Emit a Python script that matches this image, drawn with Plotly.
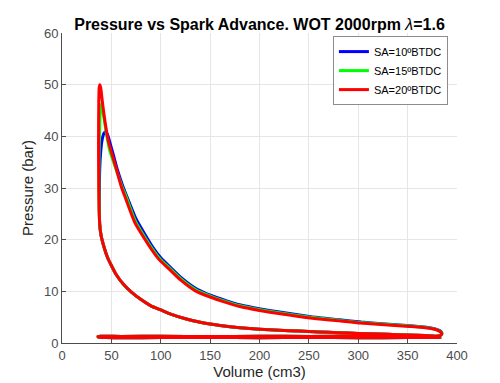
import plotly.graph_objects as go

# Shared compression stroke (BDC -> near TDC)
V_comp = [384, 375, 360, 340, 320, 300, 280, 260, 240, 220, 200, 180, 160, 140, 125,
          110, 100, 90, 80, 70, 62, 55, 50, 46, 43, 40.5, 39, 38.2]
P_comp = [1.2, 1.35, 1.5, 1.6, 1.75, 1.85, 2.0, 2.15, 2.3, 2.45, 2.65, 2.95, 3.4, 4.0, 4.7,
          5.6, 6.4, 7.2, 8.4, 9.9, 11.4, 13.2, 15.0, 16.6, 18.3, 20.0, 21.5, 23.0]

# Gas exchange (exhaust then intake)
V_gas = [383, 378, 360, 300, 250, 200, 150, 100, 60, 40, 36.5, 37, 45, 60, 100, 150, 200, 250, 300, 350, 375, 384]
P_gas = [1.45, 1.32, 1.27, 1.3, 1.28, 1.3, 1.25, 1.3, 1.27, 1.3, 1.25, 1.12, 1.05, 1.02, 1.05, 1.07, 1.04, 1.06, 1.03, 1.05, 1.05, 1.12]

# Combustion + expansion, SA=10
V_10 = [37.9, 37.8, 38.1, 39.0, 40.5, 42.5, 44.2, 46.0, 48.5, 52, 56, 61, 66, 75, 92, 100, 109,
        121, 136, 151, 166, 181, 201, 222, 252, 281, 303, 331, 353, 369, 377, 382, 384.5, 384.5]
P_10 = [25.0, 28.5, 33.0, 36.5, 39.2, 40.6, 40.9, 40.4, 38.8, 36.4, 33.6, 30.7, 28.2, 24.0, 18.5,
        16.5, 14.8, 12.6, 10.5, 9.2, 8.2, 7.35, 6.6, 5.95, 5.1, 4.5, 4.05, 3.65, 3.35, 3.05, 2.78, 2.45, 2.05, 1.7]

# Combustion + expansion, SA=15
V_15 = [37.7, 37.4, 37.5, 38.2, 39.0, 39.8, 40.8, 42.5, 45, 48, 54, 60.5, 65, 74.5, 91.5, 99.5, 108.5,
        120.5, 135.5, 150.5, 165.5, 180.5, 200.5, 221.5, 251.5, 280.5, 302.5, 330.5, 352.5, 368.5, 376.5, 381.5, 384.5, 384.5]
P_15 = [25.5, 30.0, 36.0, 42.0, 45.5, 46.2, 45.6, 43.5, 40.5, 37.5, 34.0, 30.4, 28.3, 23.5, 18.2,
        16.2, 14.6, 12.4, 10.3, 9.05, 8.05, 7.2, 6.45, 5.8, 5.0, 4.4, 3.95, 3.58, 3.28, 3.0, 2.74, 2.42, 2.02, 1.7]

# Combustion + expansion, SA=20
V_20 = [37.6, 37.2, 37.0, 37.2, 37.6, 38.3, 39.2, 41.0, 43.5, 47, 53.7, 60, 64, 74, 91, 99, 108,
        120, 135, 150, 165, 180, 200, 221, 251, 280, 302, 330, 352, 368, 376, 381, 384, 384.5]
P_20 = [25.5, 31.0, 39.0, 46.0, 49.3, 50.0, 49.4, 46.5, 42.9, 39.0, 34.6, 30.3, 28.2, 23.2, 18.0,
        16.0, 14.4, 12.2, 10.1, 8.9, 7.9, 7.05, 6.3, 5.65, 4.85, 4.3, 3.85, 3.5, 3.2, 2.95, 2.7, 2.4, 2.0, 1.7]

names = ["SA=10ºBTDC", "SA=15ºBTDC", "SA=20ºBTDC"]
colors = ["#0000ff", "#00ff00", "#ff0000"]
series_V = [V_10, V_15, V_20]
series_P = [P_10, P_15, P_20]

x_ticks = [0, 50, 100, 150, 200, 250, 300, 350, 400]
y_ticks = [0, 10, 20, 30, 40, 50, 60]

FONT = "Liberation Sans, Arial, sans-serif"

fig = go.Figure()
for name, col, Vs, Ps in zip(names, colors, series_V, series_P):
    fig.add_trace(go.Scatter(
        x=V_comp + Vs + V_gas, y=P_comp + Ps + P_gas,
        mode="lines", name=name,
        line=dict(color=col, width=3, shape="spline", smoothing=0.5),
    ))

axis_common = dict(
    showgrid=True, gridcolor="#e6e6e6", gridwidth=1,
    showline=True, linecolor="#4d4d4d", linewidth=1, mirror=False,
    ticks="inside", ticklen=4, tickcolor="#4d4d4d",
    tickfont=dict(family=FONT, size=13, color="#4d4d4d"),
    zeroline=False, automargin=False,
)

fig.update_layout(
    width=500, height=383,
    margin=dict(l=62, r=43, t=33, b=40, autoexpand=False),
    paper_bgcolor="white", plot_bgcolor="white",
    title=dict(
        text="<b>Pressure vs Spark Advance. WOT 2000rpm </b><i>λ</i><b>=1.6</b>",
        x=0.519, xanchor="center", y=0.935, yanchor="middle",
        font=dict(family=FONT, size=16, color="black"),
    ),
    xaxis=dict(range=[0, 400], tickvals=x_ticks,
               title=dict(text="Volume (cm3)", standoff=4,
                          font=dict(family=FONT, size=15, color="#262626")),
               **axis_common),
    yaxis=dict(range=[0, 60], tickvals=y_ticks,
               title=dict(text="Pressure (bar)", standoff=6,
                          font=dict(family=FONT, size=15, color="#262626")),
               **axis_common),
    legend=dict(
        x=0.977, y=0.99, xanchor="right", yanchor="top",
        bgcolor="white", bordercolor="#8c8c8c", borderwidth=1,
        font=dict(family=FONT, size=11, color="black"),
        tracegroupgap=0,
    ),
    showlegend=True,
)

fig.write_html(
    "out.html",
    config={"displayModeBar": False},
    post_script="document.body.style.margin='0px';document.body.style.overflow='hidden';",
)
